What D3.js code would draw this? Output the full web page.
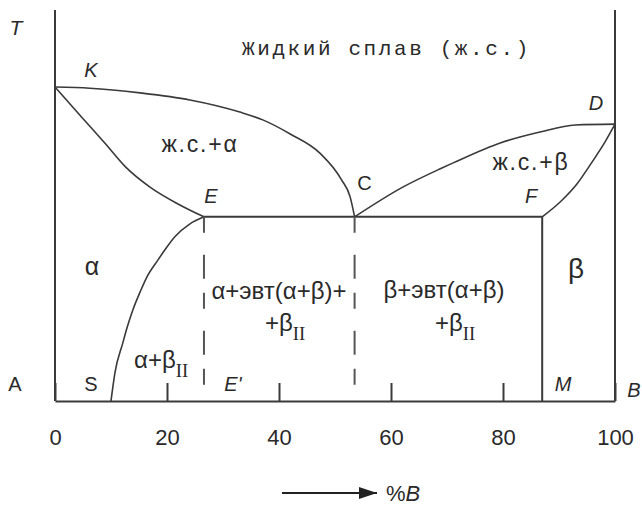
<!DOCTYPE html>
<html>
<head>
<meta charset="utf-8">
<script src="https://cdn.jsdelivr.net/npm/d3@7"></script>
<style>
  html, body { margin: 0; padding: 0; background: #fff; }
  svg { display: block; }
  text { fill: #2a2a2a; }
</style>
</head>
<body>
<svg id="chart" width="642" height="507"></svg>
<script>
// Phase diagram of a binary A–B system with a eutectic (composition %B, temperature in relative units)
const xTicks = [0, 20, 40, 60, 80, 100];

// Key points: [%B, T]
const pK = [0, 80.3];
const pD = [100, 70.8];
const pE = [26.6, 47.1];
const pC = [53.5, 47.1];
const pF = [87, 47.1];
const pS = [10, 0];
const pM = [87, 0];

// Liquidus K–C
const liquidusKC = [[0, 80.3], [6.2, 80.0], [15.2, 78.8], [24.1, 77.0], [33.0, 73.9], [37.1, 71.9],
  [42.0, 68.3], [47.3, 63.4], [51.2, 56.5], [52.7, 52.2], [53.5, 47.1]];
// Liquidus C–D
const liquidusCD = [[53.5, 47.1], [62.1, 54.7], [68.8, 59.4], [71.1, 60.9], [79.5, 66.0],
  [86.6, 68.8], [92.9, 70.6], [100, 70.8]];
// Solidus K–E (alpha)
const solidusKE = [[0, 80.3], [4.46, 73.1], [8.93, 65.9], [12.5, 60.0], [16.96, 54.7],
  [21.96, 50.4], [26.6, 47.1]];
// Solvus S–E (solubility of B in alpha)
const solvusSE = [[10, 0], [10.7, 7.2], [12.1, 14.8], [12.9, 18.9], [13.9, 23.3], [15.2, 27.9],
  [16.4, 31.7], [18.4, 36.1], [19.6, 38.6], [21.4, 42.0], [24.1, 45.3], [26.6, 47.1]];
// Solidus F–D (beta)
const solidusFD = [[87, 47.1], [90.2, 50.9], [93.2, 55.5], [95.9, 61.1], [98.2, 66.2], [100, 70.8]];

const svg = d3.select("#chart");
const x = d3.scaleLinear().domain([0, 100]).range([55, 615]);
const y = d3.scaleLinear().domain([0, 100]).range([401, 10]);

const ink = "#3a3a3a";
const smooth = d3.line().x(d => x(d[0])).y(d => y(d[1])).curve(d3.curveMonotoneX);

// Frame: temperature axes at A and B
svg.append("line").attr("x1", x(0)).attr("x2", x(0)).attr("y1", y(0)).attr("y2", y(100))
  .attr("stroke", ink).attr("stroke-width", 2);
svg.append("line").attr("x1", x(100)).attr("x2", x(100)).attr("y1", y(0)).attr("y2", y(100))
  .attr("stroke", ink).attr("stroke-width", 2);

// Composition axis with inward ticks
const xAxis = d3.axisBottom(x).tickValues(xTicks).tickSizeInner(-18).tickSizeOuter(0).tickPadding(28)
  .tickFormat(d3.format("d"));
const gx = svg.append("g").attr("transform", `translate(0,${y(0)})`).call(xAxis);
gx.select(".domain").attr("stroke", ink).attr("stroke-width", 2);
gx.selectAll(".tick line").attr("stroke", ink).attr("stroke-width", 2);
gx.selectAll(".tick text").attr("font-family", "'Liberation Sans', Arial, sans-serif")
  .attr("font-size", 22).attr("fill", "#2a2a2a");

// Phase boundary curves
[liquidusKC, liquidusCD, solidusKE, solvusSE, solidusFD].forEach(pts => {
  svg.append("path").attr("d", smooth(pts)).attr("fill", "none")
    .attr("stroke", ink).attr("stroke-width", 1.6);
});

// Eutectic horizontal E–F
svg.append("line").attr("x1", x(pE[0])).attr("x2", x(pF[0])).attr("y1", y(pE[1])).attr("y2", y(pF[1]))
  .attr("stroke", ink).attr("stroke-width", 2);
// Beta solvus F–M
svg.append("line").attr("x1", x(pF[0])).attr("x2", x(pM[0])).attr("y1", y(pF[1])).attr("y2", y(pM[1]))
  .attr("stroke", ink).attr("stroke-width", 2);

// Dashed verticals below E and C
[pE, pC].forEach(p => {
  svg.append("line").attr("x1", x(p[0])).attr("x2", x(p[0])).attr("y1", y(p[1])).attr("y2", y(0))
    .attr("stroke", "#555").attr("stroke-width", 2).attr("stroke-dasharray", "16,22,24,14");
});

// Text helpers
const sans = "'Liberation Sans', Arial, sans-serif";
const serif = "'Liberation Serif', 'Times New Roman', serif";
function label(txt, px, py, opts = {}) {
  const t = svg.append("text").attr("x", px).attr("y", py)
    .attr("font-family", opts.family || sans)
    .attr("font-size", opts.size || 20)
    .attr("font-style", opts.italic ? "italic" : "normal")
    .attr("text-anchor", opts.anchor || "middle");
  if (opts.spacing) t.attr("letter-spacing", opts.spacing);
  t.text(txt);
  return t;
}
// Text with a Roman-numeral subscript "II"
function subLabel(main, px, py, size) {
  const t = svg.append("text").attr("x", px).attr("y", py)
    .attr("font-family", sans).attr("font-size", size).attr("text-anchor", "start");
  t.append("tspan").text(main);
  t.append("tspan").attr("font-family", serif).attr("font-size", size * 0.78)
    .attr("dy", size * 0.38).text("II");
  return t;
}

// Point letters
label("T", 16, 35, { italic: true, size: 21 });
label("K", x(pK[0]) + 36, y(pK[1]) - 10, { italic: true, size: 20 });
label("D", x(pD[0]) - 19, y(pD[1]) - 14, { italic: true, size: 20 });
label("E", x(pE[0]) + 7, y(pE[1]) - 14, { italic: true, size: 20 });
label("C", x(pC[0]) + 10, y(pC[1]) - 27, { size: 20 });
label("F", x(pF[0]) - 11, y(pF[1]) - 14, { italic: true, size: 20 });
label("A", 15, 391, { size: 20 });
label("S", x(pS[0]) - 20, 391, { size: 20 });
label("E'", x(pE[0]) + 29, 391, { italic: true, size: 20 });
label("M", x(pM[0]) + 21, 391, { italic: true, size: 20 });
label("B", x(100) + 19, 397, { italic: true, size: 20 });

// Phase regions
label("Жидкий сплав (ж.с.)", 242, 55, { family: "'Liberation Mono', 'Courier New', monospace",
  size: 21, anchor: "start", spacing: 2.6 });
label("ж.с.+α", 200, 152, { size: 23, spacing: 1.8 });
label("ж.с.+β", 531, 170, { size: 23, spacing: 1.8 });
label("α", 92, 275, { size: 25 });
label("β", 576, 278, { size: 28 });
label("α+эвт(α+β)+", 279, 299, { size: 24 });
subLabel("+β", 265, 331, 24);
label("β+эвт(α+β)", 444, 298, { size: 24 });
subLabel("+β", 435, 331, 24);
subLabel("α+β", 134, 368, 24);

// Composition arrow and axis title
svg.append("defs").append("marker").attr("id", "arrowHead")
  .attr("viewBox", "0 0 18 12").attr("refX", 18).attr("refY", 6)
  .attr("markerWidth", 18).attr("markerHeight", 12).attr("markerUnits", "userSpaceOnUse")
  .attr("orient", "auto")
  .append("path").attr("d", "M0,0 L18,6 L0,12 Z").attr("fill", "#222");
svg.append("line").attr("x1", 282).attr("x2", 377).attr("y1", 493).attr("y2", 493)
  .attr("stroke", "#222").attr("stroke-width", 2).attr("marker-end", "url(#arrowHead)");
const xt = svg.append("text").attr("x", 386).attr("y", 501).attr("font-family", sans).attr("font-size", 22);
xt.append("tspan").text("%");
xt.append("tspan").attr("font-style", "italic").text("B");
</script>
</body>
</html>
